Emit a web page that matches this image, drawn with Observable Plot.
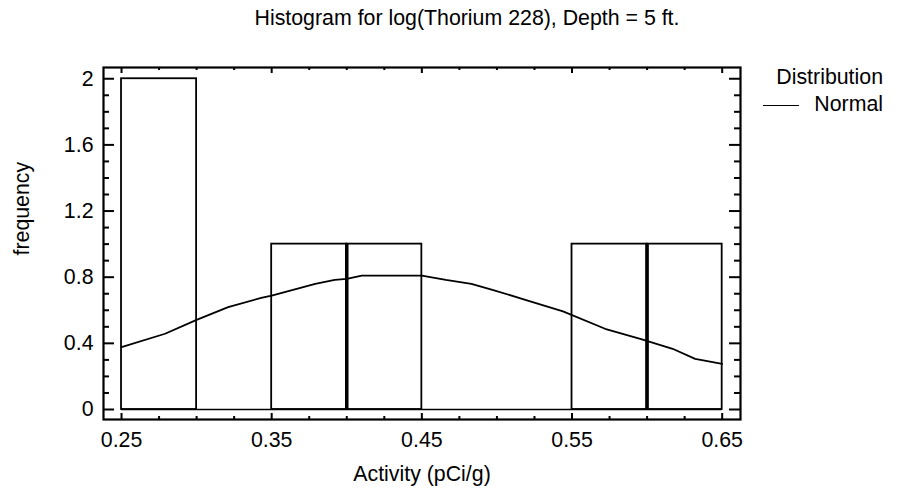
<!DOCTYPE html>
<html><head><meta charset="utf-8">
<script src="https://cdn.jsdelivr.net/npm/d3@7"></script>
<script src="https://cdn.jsdelivr.net/npm/@observablehq/plot@0.6"></script>
<style>
html,body{margin:0;padding:0;background:#fff;}
#wrap{position:relative;width:901px;height:492px;font-family:"Liberation Sans",Arial,sans-serif;color:#000;}
#title{position:absolute;left:0;width:934px;top:6px;text-align:center;font-size:21.33px;line-height:24px;white-space:nowrap;}
#legend{position:absolute;right:18px;top:64px;font-size:21.33px;line-height:27px;text-align:right;}
#legend .sw{display:inline-block;width:36px;border-top:1.5px solid #000;vertical-align:middle;margin-right:15px;}
#chart{position:absolute;left:0;top:0;}
</style></head>
<body>
<div id="wrap">
  <div id="chart"></div>
  <div id="title">Histogram for log(Thorium 228), Depth = 5 ft.</div>
  <div id="legend"><div>Distribution</div><div><span class="sw"></span>Normal</div></div>
</div>
<script>
// Histogram bins
const binStart = [0.25, 0.30, 0.35, 0.40, 0.45, 0.50, 0.55, 0.60];
const binEnd   = [0.30, 0.35, 0.40, 0.45, 0.50, 0.55, 0.60, 0.65];
const counts   = [2, 0, 1, 1, 0, 0, 1, 1];

// Fitted normal curve
const curveX = [0.25, 0.279, 0.30, 0.321, 0.343, 0.35, 0.379, 0.392, 0.40, 0.41, 0.45, 0.466, 0.483, 0.497, 0.52, 0.544, 0.572, 0.596, 0.617, 0.632, 0.65];
const curveY = [0.377, 0.458, 0.542, 0.619, 0.675, 0.689, 0.76, 0.784, 0.79, 0.81, 0.81, 0.784, 0.76, 0.724, 0.66, 0.593, 0.488, 0.425, 0.367, 0.306, 0.276];

// Tick values
const xMajor = [0.25, 0.35, 0.45, 0.55, 0.65];
const xMinor = [0.275, 0.30, 0.325, 0.375, 0.40, 0.425, 0.475, 0.50, 0.525, 0.575, 0.60, 0.625];
const yMajor = [0, 0.4, 0.8, 1.2, 1.6, 2];
const yMinor = [0.1, 0.2, 0.3, 0.5, 0.6, 0.7, 0.9, 1.0, 1.1, 1.3, 1.4, 1.5, 1.7, 1.8, 1.9];

const W = 901, H = 492;
const mL = 103, mR = 161, mT = 67, mB = 73;
const fw = W - mL - mR, fh = H - mT - mB;

const bins = binStart.map((s, i) => ({x1: s, x2: binEnd[i], n: counts[i]})).filter(d => d.n > 0);
// edges shared by two adjacent non-empty bars (drawn doubled, i.e. thicker)
const shared = binEnd.map((e, i) => ({x: e, n: Math.min(counts[i], counts[i + 1] || 0)})).filter(d => d.n > 0);
const curve = curveX.map((x, i) => ({x, y: curveY[i]}));

const fontFamily = '"Liberation Sans", Arial, sans-serif';

const plot = Plot.plot({
  width: W, height: H,
  marginLeft: mL, marginRight: mR, marginTop: mT, marginBottom: mB,
  style: {fontFamily, fontSize: "21.33px", color: "#000", background: "transparent"},
  x: {domain: [0.238, 0.6622]},
  y: {domain: [-0.0605, 2.068]},
  marks: [
    Plot.rectY(bins, {x1: "x1", x2: "x2", y1: 0, y2: "n", fill: "none", stroke: "#000", strokeWidth: 1.8}),
    Plot.ruleX(shared, {x: "x", y1: 0, y2: "n", stroke: "#000", strokeWidth: 3.5}),
    Plot.ruleY([0], {x1: binStart[0], x2: binEnd[binEnd.length - 1], stroke: "#000", strokeWidth: 1.5}),
    Plot.line(curve, {x: "x", y: "y", stroke: "#000", strokeWidth: 1.8}),
    // inward ticks
    Plot.tickY(yMajor, {y: d => d, insetRight: fw - 11, stroke: "#000", strokeWidth: 2}),
    Plot.tickY(yMinor, {y: d => d, insetRight: fw - 6, stroke: "#000", strokeWidth: 2}),
    Plot.tickY(yMajor, {y: d => d, insetLeft: fw - 11, stroke: "#000", strokeWidth: 2}),
    Plot.tickY(yMinor, {y: d => d, insetLeft: fw - 6, stroke: "#000", strokeWidth: 2}),
    Plot.tickX(xMajor, {x: d => d, insetTop: fh - 6, stroke: "#000", strokeWidth: 2}),
    Plot.tickX(xMinor, {x: d => d, insetTop: fh - 3, stroke: "#000", strokeWidth: 2}),
    Plot.tickX(xMajor, {x: d => d, insetBottom: fh - 6, stroke: "#000", strokeWidth: 2}),
    Plot.tickX(xMinor, {x: d => d, insetBottom: fh - 3, stroke: "#000", strokeWidth: 2}),
    Plot.frame({stroke: "#000", strokeWidth: 2.2}),
    Plot.axisX({ticks: xMajor, tickSize: 0, tickPadding: 12, tickFormat: d => d.toFixed(2), label: null, fontSize: 21.33}),
    Plot.axisY({ticks: yMajor, tickSize: 0, tickPadding: 10, tickFormat: d => String(+d.toFixed(1)), label: null, fontSize: 21.33}),
    Plot.text(["Activity (pCi/g)"], {frameAnchor: "bottom", dy: 55, fontSize: 21.33, lineAnchor: "middle"}),
    Plot.text(["frequency"], {frameAnchor: "left", dx: -81, dy: 12, rotate: -90, fontSize: 21.33, lineAnchor: "middle"})
  ]
});
document.getElementById("chart").appendChild(plot);
</script>
</body></html>
